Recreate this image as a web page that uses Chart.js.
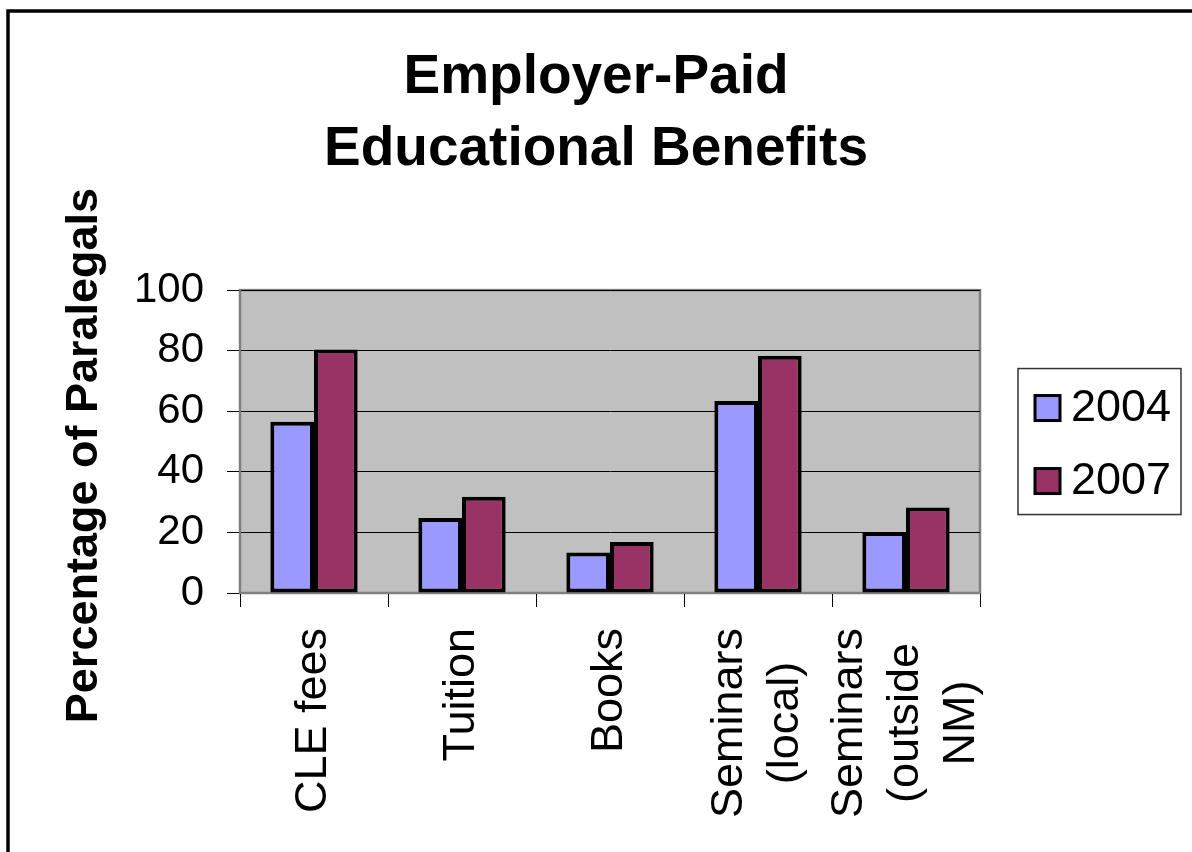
<!DOCTYPE html>
<html>
<head>
<meta charset="utf-8">
<script src="https://cdn.jsdelivr.net/npm/chart.js@4.4.1/dist/chart.umd.min.js"></script>
<style>
  html, body { margin: 0; padding: 0; background: #fff; }
  canvas { display: block; }
</style>
</head>
<body>
<canvas id="c" width="1192" height="852"></canvas>
<script>
// data
const categories = [['CLE fees'], ['Tuition'], ['Books'], ['Seminars', '(local)'], ['Seminars', '(outside', 'NM)']];
const years = ['2004', '2007'];
const values2004 = [56.5, 24.8, 13.4, 63.4, 20.1];
const values2007 = [80.4, 31.8, 16.8, 78.3, 28.2];
const yTicks = [0, 20, 40, 60, 80, 100];
const yTitle = 'Percentage of Paralegals';

const FONT = '"Liberation Sans", Arial, sans-serif';
Chart.defaults.font.family = FONT;
Chart.defaults.color = '#000';

// white page, black outer frame, grey plot area
const frame = {
    id: 'frame',
    beforeDraw(chart) {
        const {ctx, chartArea: a} = chart;
        ctx.save();
        ctx.fillStyle = '#fff';
        ctx.fillRect(0, 0, chart.width, chart.height);
        ctx.lineWidth = 3.5;
        ctx.strokeStyle = '#000';
        ctx.strokeRect(8, 11, chart.width + 50, chart.height + 50);
        ctx.fillStyle = '#c0c0c0';
        ctx.fillRect(a.left, a.top, a.width, a.height);
        ctx.strokeStyle = '#808080';
        ctx.lineWidth = 2.5;
        ctx.strokeRect(a.left, a.top, a.width, a.height);
        ctx.restore();
    }
};

// rotated category labels (lines centred on each other) and y axis title
const axisText = {
    id: 'axisText',
    afterDraw(chart) {
        const {ctx} = chart;
        const sx = chart.scales.x;
        const sy = chart.scales.y;
        const lh = 56;
        ctx.save();
        ctx.font = '45px ' + FONT;
        ctx.fillStyle = '#000';
        ctx.textAlign = 'center';
        ctx.textBaseline = 'middle';
        categories.forEach((lines, i) => {
            const w = Math.max(...lines.map(t => ctx.measureText(t).width));
            ctx.save();
            ctx.translate(sx.getPixelForValue(i), sx.top + 35 + w / 2);
            ctx.rotate(-Math.PI / 2);
            lines.forEach((t, j) => ctx.fillText(t, 0, (j - (lines.length - 1) / 2) * lh));
            ctx.restore();
        });
        ctx.font = 'bold 45px ' + FONT;
        ctx.translate(sy.left + 85, (sy.top + sy.bottom) / 2 + 14);
        ctx.rotate(-Math.PI / 2);
        ctx.fillText(yTitle, 0, 0);
        ctx.restore();
    }
};

// boxed legend to the right of the plot
const legendBox = {
    id: 'legendBox',
    afterDraw(chart) {
        const {ctx, chartArea: a} = chart;
        const w = 163, h = 146;
        const x0 = a.right + 38, y0 = (a.top + a.bottom) / 2 - h / 2;
        ctx.save();
        ctx.strokeStyle = '#333';
        ctx.lineWidth = 1.5;
        ctx.strokeRect(x0, y0, w, h);
        ctx.font = '45px ' + FONT;
        ctx.textBaseline = 'alphabetic';
        chart.data.datasets.forEach((ds, i) => {
            const cy = y0 + 40 + i * 73;
            ctx.fillStyle = ds.backgroundColor;
            ctx.fillRect(x0 + 17, cy - 13, 25, 25);
            ctx.lineWidth = 3;
            ctx.strokeStyle = '#000';
            ctx.strokeRect(x0 + 17, cy - 13, 25, 25);
            ctx.fillStyle = '#000';
            ctx.fillText(ds.label, x0 + 53, cy + 12);
        });
        ctx.restore();
    }
};

new Chart(document.getElementById('c'), {
    type: 'bar',
    data: {
        labels: categories,
        datasets: [
            {label: years[0], data: values2004, backgroundColor: '#9999ff', borderColor: '#000', borderWidth: 4, borderSkipped: false},
            {label: years[1], data: values2007, backgroundColor: '#993366', borderColor: '#000', borderWidth: 4, borderSkipped: false}
        ]
    },
    options: {
        responsive: false,
        animation: false,
        devicePixelRatio: 1,
        datasets: {bar: {categoryPercentage: 0.59, barPercentage: 1}},
        layout: {padding: 0},
        plugins: {
            legend: {display: false},
            tooltip: {enabled: false},
            title: {
                display: true,
                text: ['Employer-Paid', 'Educational Benefits'],
                color: '#000',
                font: {size: 55, weight: 'bold', lineHeight: 1.31},
                padding: {top: 42, bottom: 104}
            }
        },
        scales: {
            x: {
                grid: {drawOnChartArea: false, offset: true, tickLength: 14, color: '#000', lineWidth: 1},
                border: {color: '#808080', width: 2},
                ticks: {display: false},
                afterFit: s => { s.height = 259; }
            },
            y: {
                min: yTicks[0],
                max: yTicks[yTicks.length - 1],
                ticks: {stepSize: yTicks[1] - yTicks[0], font: {size: 42}, color: '#000', padding: 23},
                grid: {color: '#000', lineWidth: 1, tickLength: 13, tickColor: '#000'},
                border: {color: '#808080', width: 2},
                afterFit: s => { s.width = 240; }
            },
            // empty axis that only keeps room for the legend box
            legendSpace: {
                type: 'linear',
                position: 'right',
                ticks: {display: false},
                grid: {display: false},
                border: {display: false},
                afterFit: s => { s.width = 212; }
            }
        }
    },
    plugins: [frame, axisText, legendBox]
});
</script>
</body>
</html>
